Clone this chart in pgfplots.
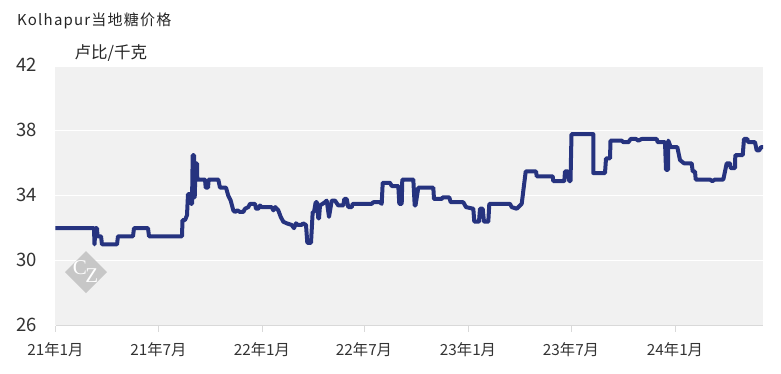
\documentclass[border=0pt]{standalone}
\usepackage{fontspec}
\usepackage{pgfplots}
\pgfplotsset{compat=1.18}
\setmainfont{Noto Sans CJK SC}
\newfontfamily\titlefont[LetterSpace=8]{Noto Sans CJK SC}
\definecolor{linec}{HTML}{26337F}
\definecolor{txt}{HTML}{333333}
\pgfplotstableread{
px val
55.5 32
94 32
94.5 31
95.5 32
97 32
97.5 31.5
101 31.5
102 31
117 31
118 31.5
133 31.5
134 32
148 32
149 31.5
182 31.5
182.5 32.5
185 32.5
187 32.8
188 34.1
190.5 34.1
191 33.5
192 33.5
192.7 36.5
194 36.5
194.7 33.9
195.7 36
197 36
197.3 35
205 35
205.7 34.5
208 34.5
208.7 35
218.3 35
220 34.5
226 34.5
228.3 34
230.7 33.7
233.3 33.1
235 33
237.3 33.1
240 33
243.3 33
245 33.2
248.3 33.3
250 33.5
255 33.5
256 33.2
258.3 33.2
260 33.4
261.7 33.3
271.7 33.3
273.3 33.1
275.3 33.3
278.3 33.1
280.7 32.7
283.3 32.4
286.7 32.3
291.7 32.2
294 32
296 32.3
298 32.2
301.7 32.2
303 32.3
306 32.2
307.3 31.1
311 31.1
312.7 33
314 33
315.7 33.6
317 33.6
318.3 32.6
319 32.6
320 33.4
325 33.6
326.7 33.7
329 32.7
331.7 33.7
335 33.7
338.3 33.4
343.3 33.4
344.3 33.8
346.7 33.8
348.3 33.3
351.7 33.3
352.7 33.5
371.7 33.5
373.3 33.6
380 33.6
381.7 33.5
382.7 34.8
390 34.8
391.7 34.6
398.3 34.6
399.3 33.5
401.7 33.5
402.3 35
413.3 35
414.7 33.4
415.5 33.4
418.3 34.5
433.3 34.5
434 33.8
441.7 33.8
442.7 33.9
449.3 33.9
450.7 33.6
463.3 33.6
466 33.3
473.3 33.2
474.3 32.4
479 32.4
480 33.2
482.7 33.2
484 32.4
488.3 32.4
489.3 33.5
510 33.5
511.7 33.3
516.7 33.2
521.7 33.5
525.7 35.5
536 35.5
536.7 35.2
552.7 35.2
553.3 34.9
564.3 34.9
565 35.5
567.7 35.5
569.3 34.9
570.5 34.9
571.5 37.8
593.3 37.8
593.3 35.4
605 35.4
606 36.3
610 36.3
610.5 37.4
621.7 37.4
623.3 37.3
628.3 37.3
630.7 37.5
636 37.5
638.3 37.4
641.7 37.5
656.7 37.5
657.7 37.3
665 37.3
666 35.6
668 35.6
668.3 37.4
670.7 37
677.3 37
680 36.2
684 36
691.7 36
692.7 35.5
695 35.5
695.7 35
710 35
712.3 34.9
715 35
723.3 35
726.7 36
730 36
730.7 35.7
735 35.7
735.3 36.5
742.7 36.5
744 37.5
747.3 37.5
748.3 37.3
755 37.3
756.7 36.8
759.3 36.8
761 37
763 37
}\pricedata
\begin{document}
\begin{tikzpicture}[x=1pt,y=1pt]
\useasboundingbox (-55.5,-47.5) rectangle (725.5,325.5);
\begin{axis}[
  anchor=south west, at={(0,0)},
  scale only axis, width=707.5pt, height=259.5pt,
  xmin=55.5, xmax=763, ymin=26, ymax=42,
  axis background/.style={fill=black!5.5},
  clip=false,
  axis line style={draw=none},
  axis x line*=bottom,
  axis y line*=left,
  ytick={26,30,34,38,42},
  xtick={55.5,158.5,262,364,468,571,675},
  xticklabels={21年1月,21年7月,22年1月,22年7月,23年1月,23年7月,24年1月},
  ymajorgrids, grid style={white,line width=1pt},
  major tick length=0pt,
  y axis line style={draw=none},
  /pgf/number format/assume math mode=true,
  yticklabel style={font=\fontsize{18.5}{18.5}\selectfont,text=txt,anchor=east,xshift=-15pt,yshift=1pt},
  xticklabel style={font=\fontsize{15.3}{16}\selectfont,text=txt,anchor=center,yshift=-24pt},
]
\addplot[linec,line width=4pt,line join=round,line cap=butt,no markers] table[x=px,y=val] {\pricedata};
\end{axis}
% bottom baseline and ticks
\draw[black!15,line width=1pt] (0,0) -- (707.5,0);
\foreach \t in {0,103,206.5,308.5,412.5,515.5,619.5} \draw[black!15,line width=1pt] (\t,0) -- (\t,-6);
% watermark
\fill[black!22] (30.5,74.5) -- (51.5,53.5) -- (30.5,32.5) -- (9.5,53.5) -- cycle;
\node[white,font=\fontsize{21}{21}\selectfont,inner sep=0pt] at (30,53.5) {\fontspec{Liberation Serif}C\kern-1.5pt\raisebox{-8pt}{Z}};
% titles
\node[anchor=west,text=black!85,inner sep=0pt,font=\fontsize{15}{15}\selectfont\titlefont] at (-38.5,305) {Kolhapur当地糖价格};
\node[anchor=west,text=black!85,inner sep=0pt,font=\fontsize{16.5}{17}\selectfont] at (19,272.5) {卢比/千克};
\end{tikzpicture}
\end{document}
